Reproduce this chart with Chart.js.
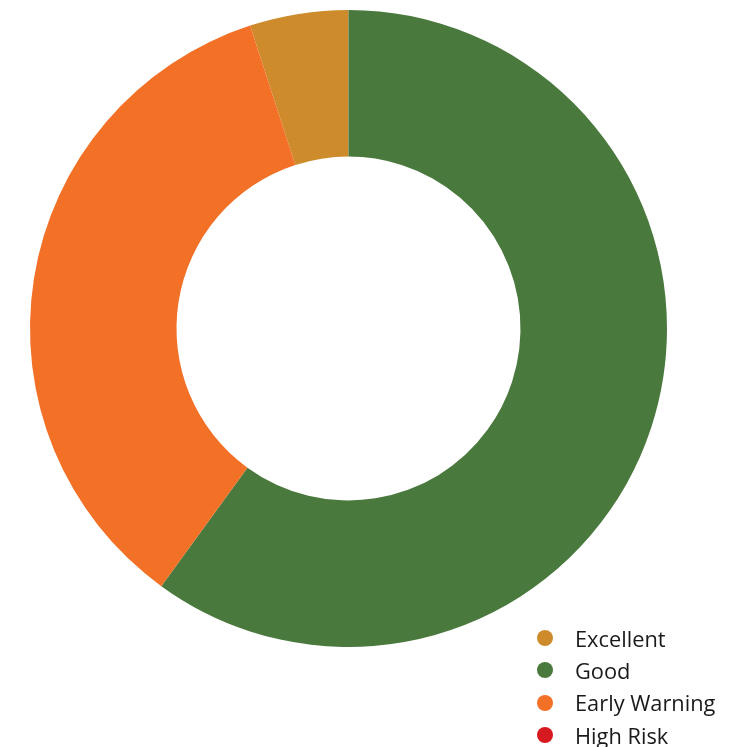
<!DOCTYPE html>
<html>
<head>
<meta charset="utf-8">
<script src="https://cdn.jsdelivr.net/npm/chart.js@4"></script>
<style>
  html, body { margin: 0; padding: 0; background: #fff; }
  #wrap { position: relative; width: 749px; height: 747px; }
  #legend { position: absolute; left: 537px; top: 622px; font-family: "Open Sans", sans-serif; font-size: 21.8px; color: #1a1a1a; }
  #legend div { display: flex; align-items: center; height: 32.3px; }
  #legend span.dot { width: 16px; height: 16px; border-radius: 50%; margin-right: 22px; }
</style>
</head>
<body>
<div id="wrap">
  <canvas id="donut" width="749" height="747"></canvas>
  <div id="legend"></div>
</div>
<script>
const categories = ['Excellent', 'Good', 'Early Warning', 'High Risk'];
const counts = [1, 12, 7, 0];
const colors = ['#cd8b2c', '#4a793d', '#f37027', '#d71920'];

const total = counts.reduce((a, b) => a + b, 0);

new Chart(document.getElementById('donut').getContext('2d'), {
  type: 'doughnut',
  data: {
    labels: categories,
    datasets: [{
      data: counts,
      backgroundColor: colors,
      borderWidth: 0
    }]
  },
  options: {
    responsive: false,
    animation: false,
    cutout: '54%',
    // first slice ends at 12 o'clock
    rotation: -360 * counts[0] / total,
    layout: { padding: { left: 30, right: 82, top: 10, bottom: 100 } },
    plugins: {
      legend: { display: false },
      tooltip: { enabled: false }
    }
  }
});

const legend = document.getElementById('legend');
categories.forEach((c, i) => {
  const row = document.createElement('div');
  row.innerHTML = `<span class="dot" style="background:${colors[i]}"></span>${c}`;
  legend.appendChild(row);
});
</script>
</body>
</html>
